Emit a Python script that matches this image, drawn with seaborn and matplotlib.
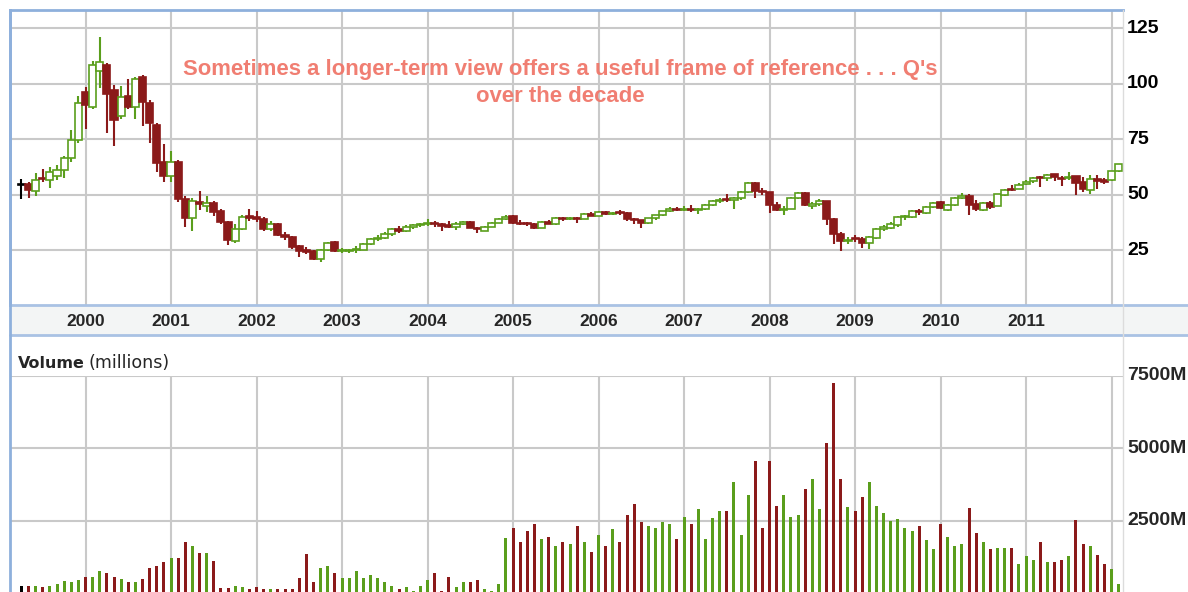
import numpy as np
import pandas as pd
import matplotlib
matplotlib.use('Agg')
import matplotlib.pyplot as plt
from matplotlib.lines import Line2D
from matplotlib.patches import Rectangle
import matplotlib.transforms as mtransforms
import seaborn as sns

sns.set_style('white')
plt.rcParams['font.family'] = ['Liberation Sans', 'DejaVu Sans']

# Monthly bars, Apr 1999 .. Feb 2012
months = pd.period_range('1999-04', '2012-02', freq='M')

opens = [54.5, 54.8, 51.5, 57.6, 56.8, 58.5, 61.0, 66.5, 74.5,
         96.3, 89.5, 106.0, 108.5, 97.0, 85.3, 94.3, 89.5, 103.0, 91.5, 81.5, 64.5,
         58.5, 64.5, 48.0, 39.5, 46.5, 45.0, 46.2, 42.5, 37.5, 29.2, 34.6, 40.2,
         40.0, 39.2, 34.6, 36.6, 31.9, 30.8, 26.8, 24.8, 24.4, 21.1, 25.0, 28.8,
         24.5, 24.6, 24.8, 25.2, 27.7, 29.9, 30.3, 32.3, 34.6, 33.4, 35.6, 36.2,
         36.6, 37.4, 36.8, 36.2, 35.2, 36.9, 37.7, 35.0, 33.8, 35.6, 37.2, 38.9,
         40.3, 37.3, 36.8, 36.6, 35.0, 37.7, 36.8, 39.5, 38.8, 39.5, 38.9, 41.4,
         40.4, 42.3, 41.1, 41.9, 41.7, 38.9, 38.4, 37.0, 39.3, 40.6, 42.4, 43.6,
         43.2, 43.7, 43.1, 43.5, 45.4, 47.3, 47.9, 47.4, 48.7, 51.4, 55.3, 51.8,
         51.2, 45.3, 43.0, 43.7, 48.5, 50.6, 45.0, 45.6, 46.9, 38.9, 32.1, 28.9,
         30.4, 30.2, 28.0, 30.6, 34.6, 35.0, 36.4, 39.7, 40.1, 42.6, 41.7, 44.3,
         46.6, 43.2, 45.3, 48.6, 49.6, 45.7, 43.2, 46.3, 44.8, 50.0, 52.6, 52.6,
         54.9, 56.0, 58.0, 57.4, 59.2, 57.6, 57.3, 58.3, 55.5, 51.9, 57.0, 56.5,
         56.4, 60.6]
highs = [57.0, 55.5, 59.8, 61.5, 62.5, 63.5, 67.5, 79.0, 94.5,
         98.5, 110.5, 121.0, 109.5, 99.5, 99.0, 102.0, 103.0, 104.0, 92.5, 82.5, 73.0,
         69.5, 65.5, 49.5, 48.5, 51.5, 49.3, 47.0, 43.5, 38.3, 36.6, 41.0, 43.4,
         42.5, 39.8, 38.0, 37.2, 33.3, 31.4, 27.3, 26.5, 24.8, 25.6, 28.6, 29.2,
         26.0, 25.6, 27.0, 28.3, 30.5, 32.0, 33.2, 34.8, 35.8, 36.5, 36.8, 37.0,
         38.8, 37.9, 37.3, 37.9, 37.5, 38.2, 38.0, 35.3, 36.0, 37.6, 39.3, 40.6,
         40.6, 38.6, 37.6, 37.1, 38.0, 38.4, 39.8, 39.9, 40.0, 39.9, 41.8, 42.0,
         42.8, 42.5, 42.3, 42.9, 42.0, 39.3, 38.7, 39.5, 40.9, 42.8, 44.2, 44.4,
         44.7, 45.3, 44.0, 45.7, 47.6, 48.3, 50.5, 48.8, 51.6, 55.6, 55.6, 53.0,
         51.4, 46.5, 44.8, 48.8, 51.0, 51.0, 46.5, 47.9, 47.2, 39.4, 33.2, 31.1,
         31.8, 31.0, 31.5, 35.0, 36.3, 37.5, 40.4, 40.8, 42.9, 43.4, 44.7, 46.5,
         47.2, 45.6, 48.9, 50.8, 50.3, 47.6, 46.5, 47.0, 50.4, 52.6, 54.4, 55.1,
         56.7, 58.0, 58.6, 59.5, 59.5, 58.2, 60.0, 58.6, 57.8, 59.0, 59.0, 57.5,
         60.8, 63.9]
lows = [48.0, 48.7, 49.5, 55.5, 52.8, 56.5, 57.5, 64.5, 73.5,
        79.5, 88.5, 98.0, 78.0, 72.0, 84.0, 88.5, 84.0, 81.0, 73.5, 60.0, 55.5,
        55.5, 46.5, 35.5, 33.8, 43.0, 42.0, 40.5, 36.8, 27.2, 28.2, 34.0, 38.0,
        37.5, 33.5, 33.5, 31.3, 29.5, 25.5, 22.0, 23.0, 20.5, 19.8, 24.5, 24.0,
        23.5, 23.6, 23.5, 25.0, 27.3, 29.3, 30.0, 31.5, 32.5, 33.3, 34.5, 35.3,
        36.0, 35.6, 33.6, 34.9, 34.0, 36.2, 34.8, 32.6, 33.4, 35.2, 37.0, 38.6,
        36.9, 36.3, 35.9, 34.3, 34.8, 36.6, 36.5, 38.2, 38.4, 37.0, 38.8, 40.2,
        40.2, 40.6, 40.8, 41.0, 38.2, 36.6, 35.1, 36.7, 38.7, 40.3, 42.1, 42.8,
        42.8, 42.0, 41.4, 43.0, 45.0, 46.0, 46.7, 43.6, 47.8, 50.9, 48.5, 50.0,
        41.9, 42.6, 40.6, 43.3, 48.0, 45.0, 43.4, 44.8, 36.4, 27.7, 24.7, 27.9,
        28.5, 25.7, 25.6, 30.2, 33.5, 34.4, 35.3, 38.7, 39.4, 40.8, 41.2, 43.9,
        43.3, 42.5, 45.0, 48.0, 40.7, 42.4, 42.5, 43.6, 44.7, 49.6, 51.8, 52.4,
        54.5, 55.3, 53.5, 56.1, 56.2, 53.9, 56.7, 49.9, 51.2, 50.2, 52.7, 54.6,
        56.1, 60.3]
closes = [54.3, 52.0, 56.4, 57.0, 60.3, 61.0, 66.5, 74.5, 91.5,
          90.5, 108.5, 109.8, 95.5, 83.5, 94.0, 89.5, 102.3, 92.0, 82.4, 64.4, 58.5,
          64.5, 48.0, 39.5, 47.0, 45.6, 46.3, 42.0, 37.5, 29.4, 34.6, 39.7, 39.6,
          39.2, 34.5, 36.6, 31.8, 31.0, 26.5, 24.5, 24.2, 21.1, 25.0, 28.0, 24.4,
          24.9, 25.0, 25.3, 27.7, 29.9, 30.3, 32.3, 34.6, 33.4, 35.6, 36.2, 36.5,
          37.3, 36.8, 36.0, 35.2, 36.9, 37.7, 35.0, 34.6, 35.6, 37.2, 38.9, 39.9,
          37.4, 36.8, 36.6, 35.0, 37.6, 36.8, 39.5, 38.8, 39.5, 38.9, 41.4, 40.4,
          42.3, 41.1, 41.9, 41.7, 38.8, 38.4, 37.0, 39.3, 40.6, 42.4, 43.6, 43.2,
          43.7, 43.1, 43.5, 45.4, 47.3, 47.6, 47.4, 48.7, 51.4, 55.3, 51.6, 51.2,
          45.3, 43.0, 43.7, 48.5, 50.6, 45.2, 45.6, 46.9, 38.9, 32.1, 28.9, 29.7,
          30.0, 28.0, 30.8, 34.6, 35.2, 36.9, 39.9, 40.1, 42.5, 42.2, 44.3, 46.1,
          43.8, 45.2, 48.6, 49.3, 45.3, 43.3, 46.0, 44.5, 50.1, 52.2, 52.3, 54.5,
          55.8, 57.6, 57.4, 58.9, 57.8, 57.2, 57.9, 55.3, 52.6, 56.9, 56.0, 55.9,
          60.5, 63.7]
# volume in millions
volumes = [253, 253, 240, 200, 253, 310, 425, 368, 437,
           565, 565, 750, 692, 565, 495, 368, 368, 495, 876, 945, 1060,
           1200, 1200, 1753, 1638, 1370, 1370, 1118, 184, 184, 240, 200, 140,
           200, 130, 130, 130, 130, 130, 508, 1338, 381, 877, 946, 704,
           508, 508, 761, 508, 623, 508, 381, 254, 127, 196, 69, 254,
           450, 704, 69, 565, 196, 381, 381, 450, 127, 69, 311, 1890,
           2260, 1753, 2135, 2385, 1880, 1950, 1629, 1755, 1686, 2317, 1755, 1434,
           2007, 1629, 2202, 1755, 2695, 3074, 2455, 2317, 2260, 2455, 2374, 1881,
           2638, 2386, 2890, 1881, 2581, 2822, 2822, 3820, 2007, 3384, 4565, 2260,
           4565, 3005, 3384, 2638, 2695, 3579, 3946, 2890, 5196, 7272, 3946, 2959,
           2822, 3326, 3820, 3005, 2753, 2500, 2569, 2260, 2133, 2317, 1824, 1514,
           2386, 1950, 1629, 1686, 2948, 2065, 1755, 1514, 1571, 1571, 1571, 998,
           1262, 1136, 1755, 1067, 1067, 1136, 1262, 2512, 1698, 1640, 1319, 1009,
           826, 321]

year_labels = [str(y) for y in range(2000, 2012)]
price_ticks = [25, 50, 75, 100, 125]
volume_ticks = [2500, 5000, 7500]
note_lines = ["Sometimes a longer-term view offers a useful frame of reference . . . Q's",
              "over the decade"]

GREEN = '#5a9e1c'
RED = '#8b1a1a'
GRID = '#c9c9c9'
BLUE = '#8eb0dc'

df = pd.DataFrame({'open': opens, 'high': highs, 'low': lows,
                   'close': closes, 'volume': volumes})
# months since Jan 2000, so year lines sit on multiples of 12
df['x'] = (months.year - 2000) * 12 + months.month - 1
df['dir'] = np.where(df['close'] >= df['open'], 'up', 'down')
df.loc[0, 'dir'] = 'first'
palette = {'up': GREEN, 'down': RED, 'first': 'black'}

W, H = 1188, 592
fig = plt.figure(figsize=(W / 100, H / 100), dpi=100)
left, right = 10 / W, 1123 / W
ax_p = fig.add_axes([left, 1 - 305 / H, right - left, 295 / H])
ax_v = fig.add_axes([left, 1 - 593 / H, right - left, 217 / H])
xlim = (-10.6, 145.6)

# ---- price panel ----
ax_p.set_xlim(*xlim)
ax_p.set_ylim(0.2, 133.3)
for yv in price_ticks:
    ax_p.axhline(yv, color=GRID, lw=1.5, zorder=0)
for k in range(13):
    ax_p.axvline(k * 12, color=GRID, lw=1.5, zorder=0)

wick_cols = df['dir'].map(palette)
ax_p.vlines(df['x'], df['low'], df['high'], colors=wick_cols, lw=1.5, zorder=2)
body_bot = df[['open', 'close']].min(axis=1)
body_h = (df['close'] - df['open']).abs().clip(lower=0.45)
face = np.where(df['dir'] == 'up', 'white', wick_cols)
ax_p.bar(df['x'], body_h, bottom=body_bot, width=1.0, color=face,
         edgecolor=wick_cols, linewidth=1.2, zorder=3)

ax_p.set_xticks([])
ax_p.set_yticks([])
for s in ['bottom', 'right']:
    ax_p.spines[s].set_visible(False)
ax_p.spines['top'].set_color(BLUE)
ax_p.spines['top'].set_linewidth(2)
ax_p.spines['left'].set_color(BLUE)
ax_p.spines['left'].set_linewidth(2)

tr_p = mtransforms.blended_transform_factory(fig.transFigure, ax_p.transData)
for yv in price_ticks:
    fig.text(1127 / W, yv, str(yv), transform=tr_p, ha='left', va='center',
             fontsize=14, fontweight='bold', color='black')

# note, two centred lines
for i, line in enumerate(note_lines):
    fig.text(560 / W, 1 - (69 + 28 * i) / H, line, ha='center', va='center',
             fontsize=15.9, fontweight='bold', color='#f0776a', alpha=0.95)

# ---- date strip ----
fig.patches.append(Rectangle((left, 1 - 335 / H), 1 - left, 30 / H,
                             transform=fig.transFigure, fc='#f3f5f5', ec='none', zorder=0))
for yp in (305, 335):
    fig.lines.append(Line2D([left, 1], [1 - yp / H] * 2, transform=fig.transFigure,
                            color='#a9c2e4', lw=2))
tr_x = mtransforms.blended_transform_factory(ax_p.transData, fig.transFigure)
for k, lab in enumerate(year_labels):
    fig.text(k * 12, 1 - 321 / H, lab, transform=tr_x, ha='center', va='center',
             fontsize=12.5, fontweight='bold')

# ---- volume panel ----
sns.barplot(data=df, x='x', y='volume', hue='dir', palette=palette,
            native_scale=True, width=0.42, dodge=False, errorbar=None,
            legend=False, saturation=1, linewidth=0, ax=ax_v)
ax_v.set_xlim(*xlim)
ax_v.set_ylim(0, 7500)
for yv in volume_ticks:
    ax_v.axhline(yv, color=GRID, lw=1.5, zorder=0)
for k in range(13):
    ax_v.axvline(k * 12, color=GRID, lw=1.5, zorder=0)
ax_v.set_xticks([])
ax_v.set_yticks([])
ax_v.set_xlabel('')
ax_v.set_ylabel('')
for s in ['top', 'bottom', 'right', 'left']:
    ax_v.spines[s].set_visible(False)

tr_v = mtransforms.blended_transform_factory(fig.transFigure, ax_v.transData)
for yv in volume_ticks:
    fig.text(1127 / W, yv, f'{yv}M', transform=tr_v, ha='left', va='center',
             fontsize=14, fontweight='bold')

fig.text(18 / W, 1 - 363 / H, 'Volume', ha='left', va='center', fontsize=11.5,
         fontweight='bold', family='DejaVu Sans')
fig.text(88 / W, 1 - 363 / H, '(millions)', ha='left', va='center', fontsize=12.6,
         family='DejaVu Sans')

# outer borders
fig.lines.append(Line2D([left, left], [0, 1 - 10 / H], transform=fig.transFigure,
                        color=BLUE, lw=2))
fig.lines.append(Line2D([right, right], [0, 1 - 10 / H], transform=fig.transFigure,
                        color='#dcdcdc', lw=1))

fig.savefig('out.png', dpi=100)
